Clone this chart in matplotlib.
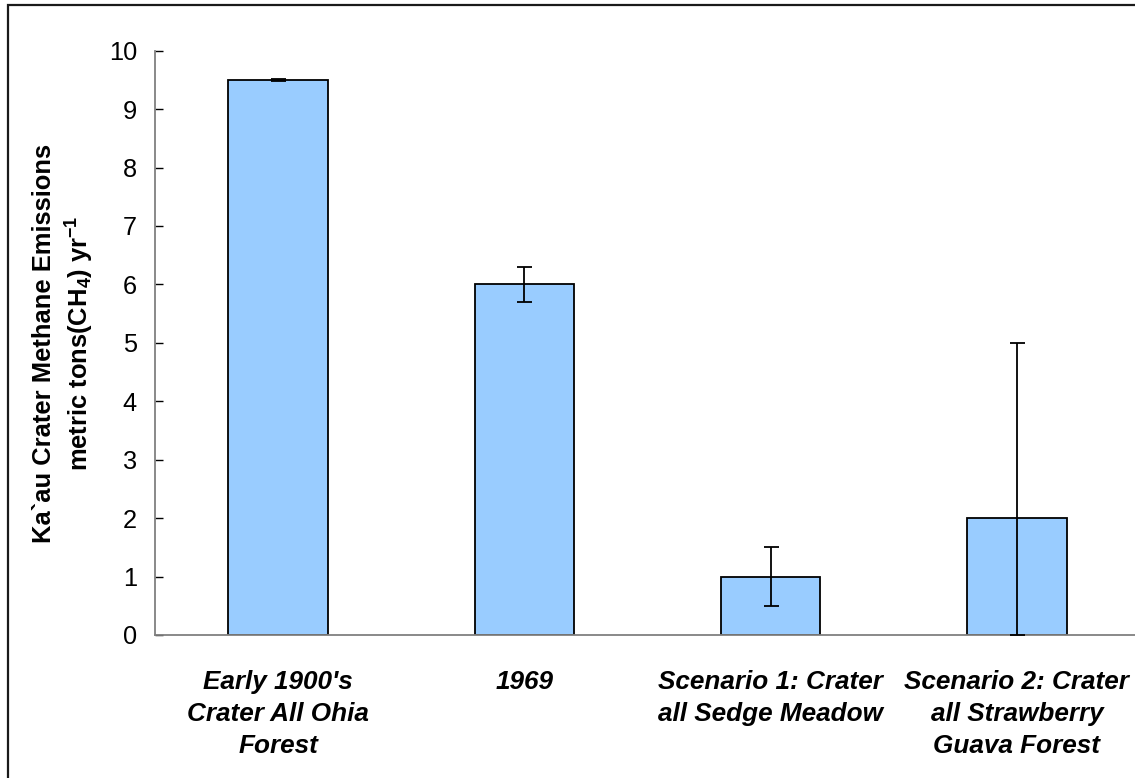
import matplotlib
matplotlib.use("Agg")
import matplotlib.pyplot as plt
from matplotlib.patches import Rectangle
import numpy as np

plt.rcParams['font.family'] = ['Liberation Sans', 'DejaVu Sans']
plt.rcParams['mathtext.fontset'] = 'custom'
plt.rcParams['mathtext.rm'] = 'Liberation Sans'
plt.rcParams['mathtext.default'] = 'regular'

categories = ["Early 1900's\nCrater All Ohia\nForest",
              "1969",
              "Scenario 1: Crater\nall Sedge Meadow",
              "Scenario 2: Crater\nall Strawberry\nGuava Forest"]
emissions = [9.5, 6.0, 1.0, 2.0]
err_low = [0.02, 0.3, 0.5, 2.0]
err_high = [0.02, 0.3, 0.5, 3.0]
yticks = list(range(0, 11))

W, H = 1135, 778
fig = plt.figure(figsize=(W / 100, H / 100), dpi=100)

# chart-area border (right and bottom edges run past the canvas)
fig.patches.append(Rectangle((8 / W, -0.1), 1.2, 0.1 + (H - 4.5) / H,
                             transform=fig.transFigure, fill=False,
                             edgecolor='#1a1a1a', linewidth=1.6, zorder=0))

ax = fig.add_axes([155 / W, (H - 635) / H, (1140 - 155) / W, (635 - 50.7) / H])
x = np.arange(len(categories))
ax.bar(x, emissions, width=0.405, color='#99CCFF', edgecolor='black',
       linewidth=1.3, zorder=2)
ax.errorbar(x, emissions, yerr=[err_low, err_high], fmt='none', ecolor='black',
            elinewidth=1.3, capsize=5.4, capthick=1.3, zorder=3)

ax.set_xlim(-0.5, 3.5)
ax.set_ylim(0, 10)
ax.set_yticks(yticks)
ax.set_yticklabels([str(t) for t in yticks], fontsize=18.3)
ax.tick_params(axis='y', direction='in', length=6, width=1, color='black', pad=13)
ax.set_xticks(x)
ax.set_xticklabels(categories, fontsize=18.8, fontweight='bold', fontstyle='italic',
                   linespacing=1.42, va='top')
ax.tick_params(axis='x', length=0, pad=25)

for side in ('top', 'right'):
    ax.spines[side].set_visible(False)
for side in ('left', 'bottom'):
    ax.spines[side].set_color('#808080')
    ax.spines[side].set_linewidth(1.3)

fig.text(64 / W, 1 - 343 / H,
         "Ka`au Crater Methane Emissions\nmetric tons(CH$_4$) yr$^{-1}$",
         rotation=90, ha='center', va='center', fontsize=18.4,
         fontweight='bold', multialignment='center', linespacing=1.3)

fig.savefig("out.png", dpi=100)
